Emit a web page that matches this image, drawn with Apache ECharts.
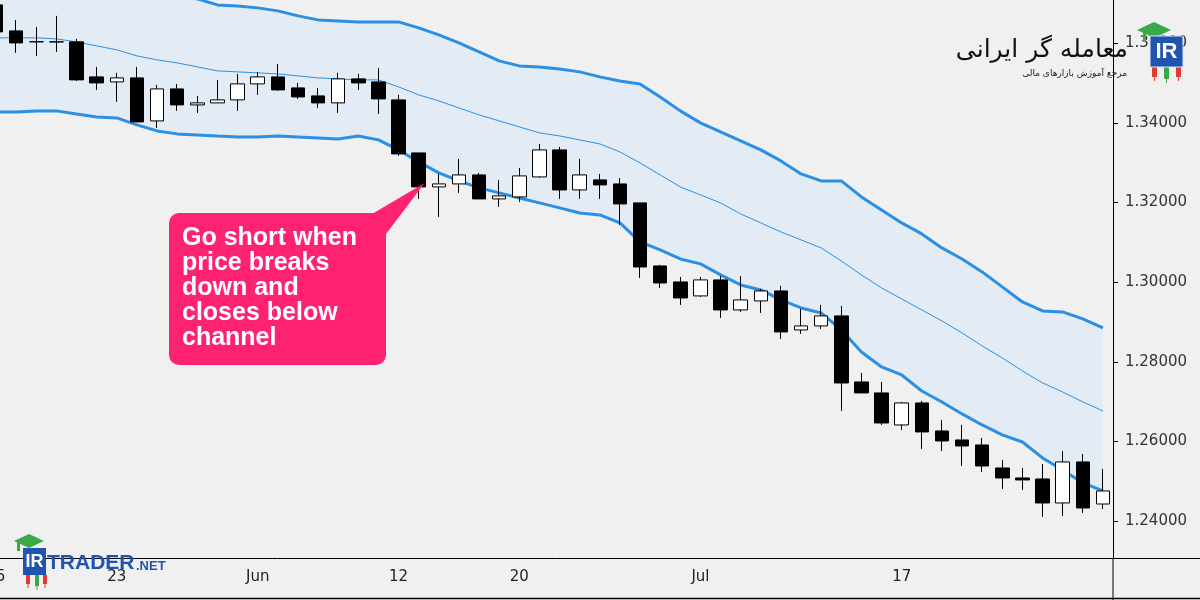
<!DOCTYPE html>
<html>
<head>
<meta charset="utf-8">
<title>Channel breakdown</title>
<script src="https://cdn.jsdelivr.net/npm/echarts@6.0.0/dist/echarts.min.js"></script>
<style>
  html, body { margin: 0; padding: 0; background: #f0f0f0; }
  #chart { width: 1200px; height: 600px; }
</style>
</head>
<body>
<div id="chart"></div>
<script>
// daily candles, 15 May - 31 Jul 2023 (weekdays)
const dates = [
  '2023-05-15', '2023-05-16', '2023-05-17', '2023-05-18', '2023-05-19',
  '2023-05-22', '2023-05-23', '2023-05-24', '2023-05-25', '2023-05-26',
  '2023-05-29', '2023-05-30', '2023-05-31', '2023-06-01', '2023-06-02',
  '2023-06-05', '2023-06-06', '2023-06-07', '2023-06-08', '2023-06-09',
  '2023-06-12', '2023-06-13', '2023-06-14', '2023-06-15', '2023-06-16',
  '2023-06-19', '2023-06-20', '2023-06-21', '2023-06-22', '2023-06-23',
  '2023-06-26', '2023-06-27', '2023-06-28', '2023-06-29', '2023-06-30',
  '2023-07-03', '2023-07-04', '2023-07-05', '2023-07-06', '2023-07-07',
  '2023-07-10', '2023-07-11', '2023-07-12', '2023-07-13', '2023-07-14',
  '2023-07-17', '2023-07-18', '2023-07-19', '2023-07-20', '2023-07-21',
  '2023-07-24', '2023-07-25', '2023-07-26', '2023-07-27', '2023-07-28',
  '2023-07-31'
]
const opens = [
  1.36967, 1.36314, 1.36040, 1.36038, 1.36038, 1.35158, 1.35032, 1.35133, 1.34052, 1.34856,
  1.34454, 1.34505, 1.34580, 1.34982, 1.35158, 1.34882, 1.34681, 1.34505, 1.35108, 1.35032,
  1.34580, 1.33248, 1.32394, 1.32469, 1.32695, 1.32092, 1.32142, 1.32645, 1.33323, 1.32318,
  1.32570, 1.32469, 1.31992, 1.30408, 1.30006, 1.29655, 1.30057, 1.29303, 1.29529, 1.29780,
  1.28800, 1.28901, 1.29152, 1.27493, 1.27217, 1.26413, 1.26966, 1.26262, 1.26036, 1.25910,
  1.25332, 1.25081, 1.25056, 1.24453, 1.25483, 1.24427
]
const closes = [
  1.36289, 1.36012, 1.36040, 1.36038, 1.35083, 1.35007, 1.35133, 1.34027, 1.34856, 1.34454,
  1.34505, 1.34580, 1.34982, 1.35158, 1.34831, 1.34655, 1.34505, 1.35108, 1.35007, 1.34605,
  1.33223, 1.32394, 1.32469, 1.32695, 1.32092, 1.32168, 1.32670, 1.33323, 1.32318, 1.32695,
  1.32444, 1.31966, 1.30383, 1.29981, 1.29604, 1.30057, 1.29303, 1.29554, 1.29780, 1.28750,
  1.28901, 1.29152, 1.27468, 1.27217, 1.26463, 1.26966, 1.26237, 1.26011, 1.25885, 1.25382,
  1.25081, 1.25031, 1.24453, 1.25483, 1.24327, 1.24754
]
const lows = [
  1.36138, 1.35761, 1.35686, 1.35786, 1.35057, 1.34831, 1.34530, 1.34027, 1.33876, 1.34304,
  1.34253, 1.34505, 1.34304, 1.34706, 1.34806, 1.34605, 1.34379, 1.34253, 1.34831, 1.34228,
  1.33173, 1.32092, 1.31640, 1.32243, 1.32092, 1.31891, 1.32017, 1.32620, 1.32092, 1.32092,
  1.32092, 1.31439, 1.30107, 1.29856, 1.29428, 1.29629, 1.29102, 1.29252, 1.29227, 1.28574,
  1.28700, 1.28825, 1.26765, 1.27217, 1.26413, 1.26287, 1.25810, 1.25759, 1.25382, 1.25232,
  1.24804, 1.24779, 1.24101, 1.24126, 1.24201, 1.24302
]
const highs = [
  1.37120, 1.36590, 1.36414, 1.36691, 1.36113, 1.35409, 1.35259, 1.35409, 1.34957, 1.34982,
  1.34681, 1.35083, 1.35233, 1.35284, 1.35485, 1.35007, 1.34882, 1.35259, 1.35233, 1.35384,
  1.34706, 1.33248, 1.32720, 1.33097, 1.32746, 1.32570, 1.32871, 1.33474, 1.33399, 1.33097,
  1.32720, 1.32620, 1.31992, 1.30434, 1.30132, 1.30132, 1.30157, 1.30157, 1.29830, 1.29906,
  1.29328, 1.29428, 1.29403, 1.27720, 1.27493, 1.26991, 1.27016, 1.26538, 1.26413, 1.26086,
  1.25533, 1.25332, 1.25432, 1.25759, 1.25684, 1.25307
]
// channel
const upper = [
  1.37600, 1.37580, 1.37550, 1.37520, 1.37480, 1.37440, 1.37380, 1.37320, 1.37250, 1.37180,
  1.37118, 1.36967, 1.36942, 1.36892, 1.36817, 1.36691, 1.36590, 1.36565, 1.36540, 1.36540,
  1.36540, 1.36389, 1.36213, 1.36012, 1.35786, 1.35560, 1.35434, 1.35409, 1.35359, 1.35284,
  1.35158, 1.35057, 1.34982, 1.34655, 1.34304, 1.34002, 1.33776, 1.33550, 1.33323, 1.33047,
  1.32720, 1.32544, 1.32544, 1.32142, 1.31816, 1.31489, 1.31213, 1.30861, 1.30584, 1.30258,
  1.29881, 1.29504, 1.29277, 1.29252, 1.29077, 1.28851
]
const middle = [
  1.36138, 1.36138, 1.36138, 1.36113, 1.36038, 1.35937, 1.35837, 1.35686, 1.35585, 1.35510,
  1.35409, 1.35309, 1.35284, 1.35259, 1.35233, 1.35183, 1.35133, 1.35108, 1.35083, 1.35083,
  1.34907, 1.34706, 1.34555, 1.34379, 1.34203, 1.34052, 1.33902, 1.33751, 1.33675, 1.33575,
  1.33474, 1.33273, 1.32997, 1.32695, 1.32394, 1.32193, 1.31992, 1.31715, 1.31489, 1.31263,
  1.31062, 1.30861, 1.30534, 1.30182, 1.29856, 1.29579, 1.29303, 1.29026, 1.28725, 1.28398,
  1.28097, 1.27770, 1.27468, 1.27242, 1.26991, 1.26765
]
const lower = [
  1.34278, 1.34278, 1.34304, 1.34304, 1.34228, 1.34153, 1.34128, 1.33952, 1.33801, 1.33726,
  1.33701, 1.33675, 1.33650, 1.33650, 1.33675, 1.33650, 1.33625, 1.33600, 1.33675, 1.33575,
  1.33323, 1.33022, 1.32746, 1.32544, 1.32369, 1.32243, 1.32117, 1.31992, 1.31866, 1.31740,
  1.31690, 1.31489, 1.31012, 1.30810, 1.30584, 1.30459, 1.30182, 1.29931, 1.29805, 1.29554,
  1.29353, 1.29227, 1.28800, 1.28247, 1.27870, 1.27669, 1.27267, 1.26991, 1.26690, 1.26413,
  1.26162, 1.25985, 1.25584, 1.25282, 1.24955, 1.24754
]
// axis labels
const xTickDates = ['2023-05-15', '2023-05-23', '2023-06-01', '2023-06-12', '2023-06-20', '2023-07-03', '2023-07-17']
const xTickLabels = ['15', '23', 'Jun', '12', '20', 'Jul', '17']
const yTicks = [1.24, 1.26, 1.28, 1.30, 1.32, 1.34, 1.36]

const blue = '#2b8fe3'
const pink = '#ff2172'
const logoBlue = '#1f55b0'

const chart = echarts.init(document.getElementById('chart'))

const candles = dates.map((d, i) => [opens[i], closes[i], lows[i], highs[i]])
const bandWidth = upper.map((u, i) => +(u - lower[i]).toFixed(5))
const isTick = (index, value) => xTickDates.includes(value)

chart.setOption({
  animation: false,
  backgroundColor: '#f0f0f0',
  grid: {left: -14, right: 87, top: 0, bottom: 42, outerBoundsMode: 'none'},
  xAxis: {
    type: 'category',
    data: dates,
    boundaryGap: true,
    axisLine: {lineStyle: {color: '#000', width: 1}},
    axisTick: {alignWithLabel: true, interval: isTick, length: 4, lineStyle: {color: '#000'}},
    axisLabel: {
      interval: isTick,
      formatter: v => xTickLabels[xTickDates.indexOf(v)],
      fontFamily: 'DejaVu Sans',
      fontSize: 15,
      color: '#222',
      margin: 12
    },
    splitLine: {show: false}
  },
  yAxis: {
    type: 'value',
    position: 'right',
    min: 1.2307,
    max: 1.3709,
    splitLine: {show: false},
    axisLine: {show: true, lineStyle: {color: '#000', width: 1}},
    axisTick: {show: true, customValues: yTicks, length: 5, lineStyle: {color: '#000'}},
    axisLabel: {
      customValues: yTicks,
      formatter: v => v.toFixed(5),
      fontFamily: 'DejaVu Sans',
      fontSize: 15,
      color: '#333',
      margin: 12
    }
  },
  series: [
    {
      name: 'bandBase', type: 'line', data: lower, stack: 'band', symbol: 'none',
      lineStyle: {opacity: 0}, silent: true, z: 1
    },
    {
      name: 'band', type: 'line', data: bandWidth, stack: 'band', symbol: 'none',
      lineStyle: {opacity: 0}, areaStyle: {color: '#e3ebf5', opacity: 1}, silent: true, z: 1
    },
    {
      name: 'upper', type: 'line', data: upper, symbol: 'none',
      lineStyle: {color: blue, width: 3}, z: 2
    },
    {
      name: 'middle', type: 'line', data: middle, symbol: 'none',
      lineStyle: {color: blue, width: 1}, z: 2
    },
    {
      name: 'lower', type: 'line', data: lower, symbol: 'none',
      lineStyle: {color: blue, width: 3}, z: 2
    },
    {
      name: 'price', type: 'candlestick', data: candles, barWidth: 14, z: 3,
      itemStyle: {color: '#fff', color0: '#000', borderColor: '#000', borderColor0: '#000', borderWidth: 1}
    }
  ]
})

// callout points at the close of 13 Jun
const tip = chart.convertToPixel({seriesIndex: 5}, [dates[21], closes[21]])

chart.setOption({
  graphic: [
    // frame lines
    {type: 'line', shape: {x1: 1113, y1: 558.5, x2: 1200, y2: 558.5}, style: {stroke: '#000', lineWidth: 1}, z: 50},
    {type: 'line', shape: {x1: 1113, y1: 558, x2: 1113, y2: 600}, style: {stroke: '#000', lineWidth: 1}, z: 50},
    {type: 'line', shape: {x1: 0, y1: 598.5, x2: 1200, y2: 598.5}, style: {stroke: '#000', lineWidth: 1.5}, z: 50},
    // callout
    {type: 'polygon', shape: {points: [[372, 214], [tip[0] + 6, tip[1] - 4], [386, 234]]}, style: {fill: pink}, z: 100},
    {type: 'rect', shape: {x: 169, y: 213, width: 217, height: 152, r: 10}, style: {fill: pink}, z: 100},
    {
      type: 'text', x: 182, y: 226, z: 101,
      style: {
        text: 'Go short when\nprice breaks\ndown and\ncloses below\nchannel',
        font: 'bold 25px "Liberation Sans", Arial, sans-serif',
        fill: '#fff',
        lineHeight: 25
      }
    },
    // top-right watermark
    {
      type: 'text', x: 1128, y: 50, z: 110,
      style: {text: 'معامله گر ایرانی', font: '25px "DejaVu Sans"', fill: '#111', align: 'right', verticalAlign: 'middle'}
    },
    {
      type: 'text', x: 1127, y: 74, z: 110,
      style: {text: 'مرجع آموزش بازارهای مالی', font: '9px "DejaVu Sans"', fill: '#222', align: 'right', verticalAlign: 'middle'}
    },
    {type: 'polygon', shape: {points: [[1137, 30], [1154, 22], [1171, 30], [1154, 38]]}, style: {fill: '#3aaa48'}, z: 110},
    {type: 'rect', shape: {x: 1143, y: 30, width: 3, height: 12}, style: {fill: '#3aaa48'}, z: 110},
    {type: 'rect', shape: {x: 1150, y: 36, width: 33, height: 31}, style: {fill: logoBlue, stroke: '#dfe6f2', lineWidth: 1}, z: 111},
    {
      type: 'text', x: 1166.5, y: 52, z: 112,
      style: {text: 'IR', font: 'bold 22px "Liberation Sans", Arial', fill: '#fff', align: 'center', verticalAlign: 'middle'}
    },
    {type: 'rect', shape: {x: 1152, y: 67, width: 5, height: 10}, style: {fill: '#e53935'}, z: 110},
    {type: 'rect', shape: {x: 1154, y: 67, width: 1, height: 14}, style: {fill: '#e53935'}, z: 110},
    {type: 'rect', shape: {x: 1164, y: 67, width: 5, height: 12}, style: {fill: '#3aaa48'}, z: 110},
    {type: 'rect', shape: {x: 1166, y: 67, width: 1, height: 16}, style: {fill: '#3aaa48'}, z: 110},
    {type: 'rect', shape: {x: 1176, y: 67, width: 5, height: 10}, style: {fill: '#e53935'}, z: 110},
    {type: 'rect', shape: {x: 1178, y: 67, width: 1, height: 14}, style: {fill: '#e53935'}, z: 110},
    // bottom-left watermark
    {type: 'polygon', shape: {points: [[14, 541], [29, 534], [44, 541], [29, 548]]}, style: {fill: '#3aaa48'}, z: 110},
    {type: 'rect', shape: {x: 17, y: 541, width: 3, height: 10}, style: {fill: '#3aaa48'}, z: 110},
    {type: 'rect', shape: {x: 23, y: 548, width: 23, height: 27}, style: {fill: logoBlue}, z: 111},
    {
      type: 'text', x: 34.5, y: 562, z: 112,
      style: {text: 'IR', font: 'bold 18px "Liberation Sans", Arial', fill: '#fff', align: 'center', verticalAlign: 'middle'}
    },
    {type: 'rect', shape: {x: 26, y: 575, width: 4, height: 9}, style: {fill: '#e53935'}, z: 110},
    {type: 'rect', shape: {x: 27.5, y: 575, width: 1, height: 13}, style: {fill: '#e53935'}, z: 110},
    {type: 'rect', shape: {x: 35, y: 575, width: 4, height: 11}, style: {fill: '#3aaa48'}, z: 110},
    {type: 'rect', shape: {x: 36.5, y: 575, width: 1, height: 15}, style: {fill: '#3aaa48'}, z: 110},
    {type: 'rect', shape: {x: 43, y: 575, width: 4, height: 9}, style: {fill: '#e53935'}, z: 110},
    {type: 'rect', shape: {x: 44.5, y: 575, width: 1, height: 13}, style: {fill: '#e53935'}, z: 110},
    {
      type: 'text', x: 47, y: 563, z: 112,
      style: {text: 'TRADER', font: 'bold 21px "Liberation Sans", Arial', fill: logoBlue, verticalAlign: 'middle'}
    },
    {
      type: 'text', x: 136, y: 566, z: 112,
      style: {text: '.NET', font: 'bold 13px "Liberation Sans", Arial', fill: logoBlue, verticalAlign: 'middle'}
    }
  ]
})
</script>
</body>
</html>
